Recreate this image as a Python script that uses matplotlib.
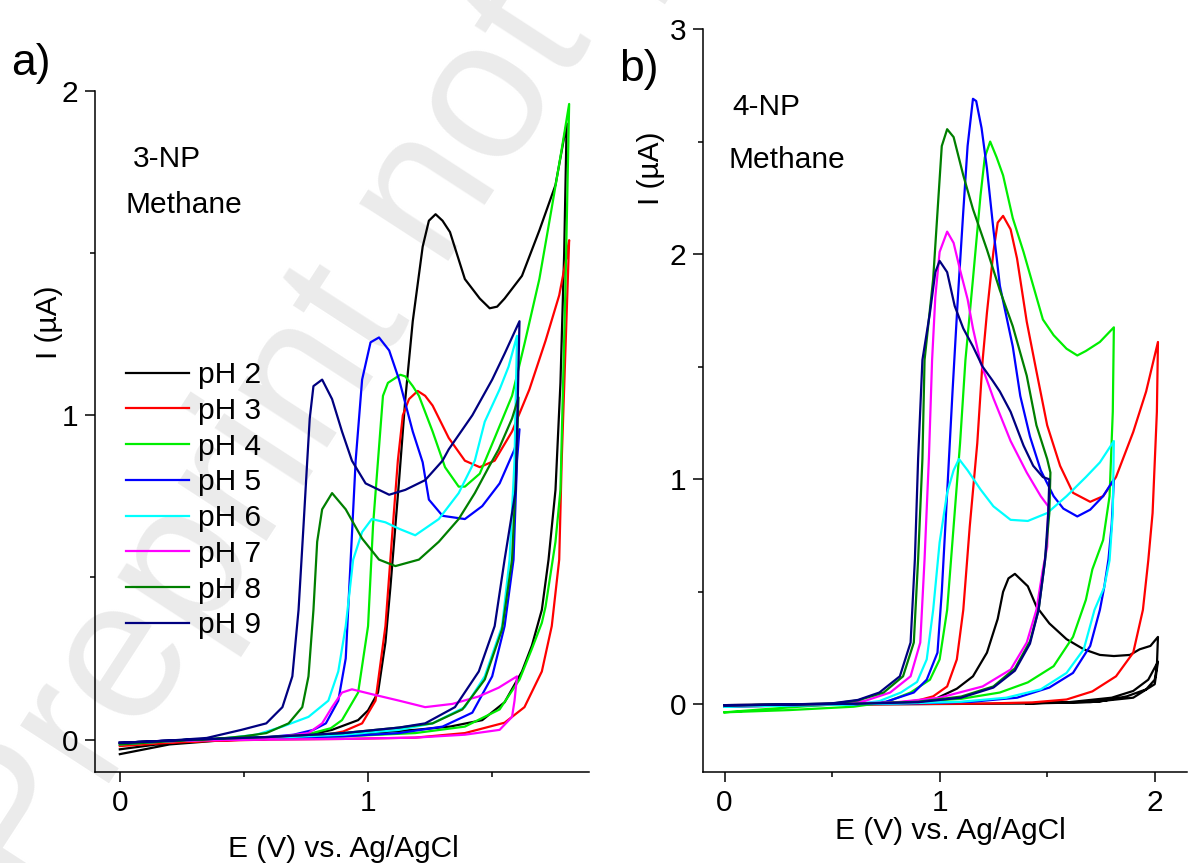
#!/usr/bin/env python3
"""Cyclic voltammograms of 3-NP and 4-NP in methane at different pH."""
import matplotlib.pyplot as plt
from matplotlib.ticker import MultipleLocator

plt.rcParams['font.family'] = ['Liberation Sans', 'DejaVu Sans']
plt.rcParams['font.size'] = 21.5

PH_LABELS = ['pH 2', 'pH 3', 'pH 4', 'pH 5', 'pH 6', 'pH 7', 'pH 8', 'pH 9']
COLORS = ['#000000', '#ff0000', '#00ee00', '#0000ff', '#00ffff', '#ff00ff', '#007f00', '#000080']

# ---- panel a: 3-NP, (E [V], I [uA]) along the scan (forward then reverse)
A_PH2 = [(0.0, -0.045), (0.1, -0.03), (0.2, -0.015), (0.4, -0.003), (0.6, 0.004), (0.75, 0.012),
         (0.855, 0.03), (0.96, 0.06), (1.0, 0.09), (1.04, 0.145), (1.07, 0.3), (1.09, 0.47),
         (1.125, 0.8), (1.15, 1.05), (1.18, 1.29), (1.22, 1.52), (1.245, 1.6), (1.272, 1.62),
         (1.30, 1.6), (1.33, 1.565), (1.39, 1.42), (1.45, 1.36), (1.49, 1.33), (1.52, 1.335),
         (1.55, 1.36), (1.62, 1.43), (1.69, 1.57), (1.755, 1.71), (1.80, 1.90), (1.79, 1.5),
         (1.775, 1.1), (1.755, 0.77), (1.727, 0.555), (1.70, 0.40), (1.66, 0.29), (1.62, 0.21),
         (1.55, 0.115), (1.46, 0.06), (1.33, 0.04), (1.19, 0.03), (1.0, 0.02), (0.7, 0.01),
         (0.4, 0.0), (0.2, -0.01), (0.0, -0.03)]
A_PH3 = [(0.0, -0.02), (0.2, -0.01), (0.4, -0.003), (0.6, 0.002), (0.8, 0.01), (0.9, 0.025),
         (0.976, 0.05), (1.03, 0.12), (1.07, 0.35), (1.10, 0.66), (1.12, 0.86), (1.14, 1.0),
         (1.165, 1.05), (1.20, 1.075), (1.23, 1.06), (1.26, 1.03), (1.325, 0.93), (1.39, 0.86),
         (1.45, 0.84), (1.51, 0.86), (1.58, 0.95), (1.65, 1.08), (1.715, 1.23), (1.77, 1.37),
         (1.80, 1.49), (1.81, 1.54), (1.795, 1.2), (1.78, 0.86), (1.77, 0.555), (1.74, 0.35),
         (1.70, 0.21), (1.63, 0.10), (1.55, 0.052), (1.39, 0.02), (1.19, 0.006), (0.9, 0.002),
         (0.6, 0.0), (0.3, -0.005), (0.0, -0.015)]
A_PH4 = [(0.0, -0.01), (0.2, -0.005), (0.4, 0.0), (0.6, 0.005), (0.75, 0.015), (0.85, 0.035),
         (0.895, 0.06), (0.96, 0.145), (1.0, 0.35), (1.02, 0.66), (1.04, 0.86), (1.06, 1.06),
         (1.08, 1.1), (1.10, 1.11), (1.13, 1.125), (1.15, 1.12), (1.18, 1.09), (1.205, 1.06),
         (1.26, 0.95), (1.31, 0.84), (1.365, 0.78), (1.39, 0.78), (1.45, 0.82), (1.51, 0.93),
         (1.58, 1.06), (1.63, 1.22), (1.69, 1.42), (1.74, 1.64), (1.78, 1.82), (1.81, 1.96),
         (1.795, 1.39), (1.775, 0.77), (1.755, 0.61), (1.715, 0.41), (1.70, 0.36), (1.66, 0.28),
         (1.61, 0.185), (1.53, 0.093), (1.39, 0.04), (1.19, 0.02), (0.9, 0.01), (0.6, 0.005),
         (0.3, 0.0), (0.0, -0.01)]
A_PH5 = [(0.0, -0.01), (0.2, -0.003), (0.4, 0.002), (0.6, 0.008), (0.7, 0.015), (0.78, 0.03),
         (0.83, 0.05), (0.88, 0.12), (0.91, 0.25), (0.93, 0.555), (0.95, 0.86), (0.976, 1.11),
         (1.01, 1.225), (1.044, 1.24), (1.085, 1.20), (1.125, 1.11), (1.18, 0.95), (1.22, 0.855),
         (1.245, 0.74), (1.30, 0.69), (1.39, 0.68), (1.46, 0.72), (1.53, 0.79), (1.57, 0.86),
         (1.59, 0.895), (1.61, 0.957), (1.60, 0.86), (1.586, 0.555), (1.55, 0.35), (1.50, 0.195),
         (1.42, 0.083), (1.30, 0.04), (1.125, 0.02), (0.9, 0.01), (0.6, 0.005), (0.3, 0.0),
         (0.0, -0.01)]
A_PH6 = [(0.0, -0.015), (0.2, -0.005), (0.4, 0.002), (0.55, 0.015), (0.655, 0.04), (0.76, 0.07),
         (0.84, 0.12), (0.88, 0.21), (0.91, 0.35), (0.94, 0.555), (0.976, 0.64), (1.015, 0.68),
         (1.07, 0.67), (1.125, 0.65), (1.19, 0.63), (1.285, 0.68), (1.365, 0.76), (1.43, 0.86),
         (1.47, 0.98), (1.53, 1.08), (1.566, 1.15), (1.60, 1.245), (1.59, 0.86), (1.57, 0.555),
         (1.54, 0.35), (1.47, 0.195), (1.39, 0.10), (1.26, 0.05), (1.125, 0.03), (0.9, 0.015),
         (0.6, 0.005), (0.3, 0.0), (0.0, -0.01)]
A_PH7 = [(0.0, -0.01), (0.2, -0.003), (0.4, 0.0), (0.6, 0.005), (0.76, 0.02), (0.815, 0.05),
         (0.855, 0.10), (0.895, 0.145), (0.935, 0.155), (1.015, 0.14), (1.125, 0.12), (1.23, 0.10),
         (1.34, 0.11), (1.446, 0.133), (1.526, 0.16), (1.60, 0.195), (1.59, 0.12), (1.58, 0.07),
         (1.53, 0.03), (1.39, 0.015), (1.19, 0.006), (0.9, 0.002), (0.6, 0.0), (0.3, -0.003),
         (0.0, -0.01)]
A_PH8 = [(0.0, -0.015), (0.2, -0.005), (0.4, 0.003), (0.5, 0.01), (0.59, 0.02), (0.68, 0.05),
         (0.735, 0.10), (0.76, 0.195), (0.78, 0.40), (0.795, 0.61), (0.815, 0.71), (0.855, 0.76),
         (0.91, 0.71), (0.976, 0.62), (1.044, 0.555), (1.11, 0.535), (1.205, 0.555), (1.285, 0.61),
         (1.365, 0.68), (1.43, 0.76), (1.486, 0.84), (1.526, 0.895), (1.58, 0.99), (1.606, 1.055),
         (1.595, 0.8), (1.58, 0.555), (1.54, 0.34), (1.47, 0.185), (1.38, 0.093), (1.26, 0.05),
         (1.125, 0.037), (0.9, 0.02), (0.6, 0.008), (0.3, 0.0), (0.0, -0.01)]
A_PH9 = [(0.0, -0.01), (0.2, -0.003), (0.35, 0.005), (0.49, 0.03), (0.59, 0.05), (0.655, 0.10),
         (0.695, 0.195), (0.72, 0.40), (0.74, 0.66), (0.755, 0.86), (0.765, 0.99), (0.78, 1.09),
         (0.815, 1.11), (0.855, 1.05), (0.895, 0.95), (0.935, 0.86), (0.99, 0.79), (1.085, 0.755),
         (1.15, 0.77), (1.23, 0.80), (1.30, 0.86), (1.325, 0.895), (1.42, 1.0), (1.50, 1.11),
         (1.55, 1.19), (1.61, 1.29), (1.595, 0.77), (1.55, 0.555), (1.51, 0.35), (1.446, 0.21),
         (1.35, 0.10), (1.23, 0.05), (1.125, 0.037), (0.9, 0.02), (0.6, 0.008), (0.3, 0.0),
         (0.0, -0.01)]

# ---- panel b: 4-NP
B_PH2 = [(0.0, -0.005), (0.3, 0.0), (0.6, 0.003), (0.8, 0.008), (0.97, 0.02), (1.08, 0.07),
         (1.155, 0.125), (1.22, 0.23), (1.27, 0.38), (1.295, 0.50), (1.32, 0.56), (1.35, 0.58),
         (1.41, 0.525), (1.45, 0.435), (1.51, 0.36), (1.59, 0.29), (1.67, 0.245), (1.745, 0.22),
         (1.81, 0.215), (1.885, 0.22), (1.93, 0.245), (1.98, 0.26), (2.015, 0.30), (2.01, 0.17),
         (2.0, 0.11), (1.96, 0.067), (1.87, 0.036), (1.745, 0.013), (1.59, 0.009), (1.4, 0.005),
         (1.6, 0.01), (1.8, 0.03), (1.9, 0.06), (1.97, 0.11), (2.015, 0.19), (2.0, 0.09),
         (1.9, 0.03), (1.7, 0.01), (1.4, 0.004), (1.0, 0.002), (0.6, 0.0), (0.0, -0.003)]
B_PH3 = [(0.0, -0.01), (0.3, -0.005), (0.6, 0.0), (0.8, 0.008), (0.9, 0.018), (0.97, 0.036),
         (1.035, 0.08), (1.08, 0.20), (1.11, 0.42), (1.14, 0.79), (1.175, 1.16), (1.20, 1.53),
         (1.22, 1.74), (1.25, 2.01), (1.27, 2.14), (1.295, 2.17), (1.33, 2.11), (1.36, 1.98),
         (1.405, 1.70), (1.45, 1.48), (1.50, 1.24), (1.56, 1.06), (1.62, 0.94), (1.70, 0.90),
         (1.76, 0.925), (1.82, 1.01), (1.90, 1.21), (1.96, 1.39), (2.015, 1.61), (2.01, 1.30),
         (1.99, 0.85), (1.97, 0.64), (1.945, 0.42), (1.90, 0.23), (1.82, 0.125), (1.71, 0.058),
         (1.59, 0.022), (1.43, 0.009), (1.2, 0.004), (0.9, 0.002), (0.5, 0.0), (0.0, -0.005)]
B_PH4 = [(0.0, -0.035), (0.3, -0.025), (0.6, -0.01), (0.75, 0.01), (0.865, 0.053), (0.955, 0.11),
         (1.0, 0.20), (1.035, 0.42), (1.065, 0.79), (1.095, 1.16), (1.12, 1.53), (1.155, 1.89),
         (1.19, 2.26), (1.21, 2.43), (1.235, 2.50), (1.265, 2.43), (1.295, 2.35), (1.34, 2.16),
         (1.39, 2.01), (1.435, 1.86), (1.48, 1.71), (1.53, 1.64), (1.59, 1.58), (1.64, 1.55),
         (1.68, 1.57), (1.745, 1.61), (1.81, 1.675), (1.805, 1.30), (1.79, 0.925), (1.76, 0.73),
         (1.71, 0.60), (1.68, 0.465), (1.62, 0.30), (1.53, 0.17), (1.41, 0.098), (1.28, 0.053),
         (1.1, 0.025), (0.8, 0.008), (0.5, 0.0), (0.2, -0.02), (0.0, -0.035)]
B_PH5 = [(0.0, -0.01), (0.3, -0.005), (0.6, 0.0), (0.75, 0.012), (0.88, 0.053), (0.94, 0.11),
         (0.99, 0.23), (1.01, 0.50), (1.035, 0.94), (1.06, 1.39), (1.085, 1.81), (1.11, 2.19),
         (1.13, 2.48), (1.155, 2.69), (1.17, 2.68), (1.195, 2.56), (1.22, 2.38), (1.25, 2.11),
         (1.28, 1.86), (1.34, 1.59), (1.375, 1.37), (1.42, 1.19), (1.47, 1.04), (1.53, 0.925),
         (1.575, 0.87), (1.64, 0.835), (1.70, 0.865), (1.76, 0.925), (1.81, 1.0), (1.80, 0.80),
         (1.785, 0.645), (1.765, 0.52), (1.745, 0.42), (1.70, 0.26), (1.62, 0.14), (1.51, 0.075),
         (1.36, 0.03), (1.15, 0.012), (0.9, 0.005), (0.5, 0.0), (0.0, -0.005)]
B_PH6 = [(0.0, -0.01), (0.3, -0.005), (0.6, 0.0), (0.72, 0.015), (0.82, 0.053), (0.895, 0.10),
         (0.94, 0.20), (0.97, 0.42), (1.0, 0.72), (1.035, 0.94), (1.065, 1.04), (1.09, 1.09),
         (1.13, 1.04), (1.19, 0.955), (1.25, 0.88), (1.33, 0.82), (1.41, 0.815), (1.50, 0.85),
         (1.59, 0.925), (1.68, 1.01), (1.745, 1.075), (1.81, 1.17), (1.805, 0.85), (1.79, 0.64),
         (1.765, 0.52), (1.72, 0.42), (1.67, 0.245), (1.59, 0.14), (1.47, 0.067), (1.31, 0.03),
         (1.1, 0.012), (0.8, 0.004), (0.4, 0.0), (0.0, -0.008)]
B_PH7 = [(0.0, -0.005), (0.3, 0.0), (0.5, 0.003), (0.65, 0.015), (0.77, 0.053), (0.865, 0.125),
         (0.91, 0.275), (0.93, 0.645), (0.95, 1.09), (0.965, 1.53), (0.98, 1.81), (1.0, 2.01),
         (1.035, 2.10), (1.065, 2.05), (1.095, 1.93), (1.13, 1.80), (1.155, 1.67), (1.19, 1.52),
         (1.25, 1.36), (1.33, 1.17), (1.405, 1.03), (1.47, 0.925), (1.505, 0.88), (1.50, 0.70),
         (1.48, 0.60), (1.45, 0.42), (1.405, 0.275), (1.33, 0.155), (1.2, 0.08), (1.0, 0.03),
         (0.8, 0.01), (0.5, 0.002), (0.0, -0.003)]
B_PH8 = [(0.0, -0.005), (0.3, 0.0), (0.5, 0.004), (0.62, 0.018), (0.74, 0.053), (0.83, 0.125),
         (0.88, 0.275), (0.90, 0.645), (0.92, 1.09), (0.93, 1.53), (0.97, 1.89), (0.995, 2.26),
         (1.01, 2.48), (1.035, 2.555), (1.065, 2.52), (1.11, 2.35), (1.155, 2.20), (1.22, 2.02),
         (1.28, 1.84), (1.34, 1.68), (1.405, 1.46), (1.45, 1.24), (1.50, 1.09), (1.515, 1.03),
         (1.51, 0.85), (1.49, 0.64), (1.46, 0.42), (1.42, 0.28), (1.35, 0.16), (1.25, 0.08),
         (1.1, 0.035), (0.9, 0.012), (0.6, 0.003), (0.3, 0.0), (0.0, -0.003)]
B_PH9 = [(0.0, -0.005), (0.3, 0.0), (0.5, 0.005), (0.62, 0.02), (0.72, 0.053), (0.815, 0.125),
         (0.865, 0.275), (0.885, 0.645), (0.90, 1.09), (0.92, 1.53), (0.955, 1.74), (0.98, 1.92),
         (1.0, 1.97), (1.035, 1.92), (1.07, 1.77), (1.11, 1.67), (1.155, 1.59), (1.20, 1.50),
         (1.245, 1.44), (1.28, 1.39), (1.33, 1.30), (1.39, 1.15), (1.435, 1.06), (1.48, 1.01),
         (1.51, 1.0), (1.505, 0.85), (1.49, 0.64), (1.46, 0.42), (1.42, 0.27), (1.35, 0.15),
         (1.25, 0.075), (1.1, 0.03), (0.9, 0.01), (0.6, 0.003), (0.3, 0.0), (0.0, -0.003)]

CURVES_A = [A_PH2, A_PH3, A_PH4, A_PH5, A_PH6, A_PH7, A_PH8, A_PH9]
CURVES_B = [B_PH2, B_PH3, B_PH4, B_PH5, B_PH6, B_PH7, B_PH8, B_PH9]

W, H = 1189, 863
FS = 21.5

# axes boxes in pixels: left, bottom spine y, right, top
A_BOX = (95, 772, 589, 91)
B_BOX = (703, 772, 1187, 29)


def add_axes(box):
    l, b, r, t = box
    return fig.add_axes([l / W, 1 - b / H, (r - l) / W, (b - t) / H])


def style_axes(ax):
    ax.set_facecolor('none')
    ax.spines['top'].set_visible(False)
    ax.spines['right'].set_visible(False)
    for s in ('left', 'bottom'):
        ax.spines[s].set_linewidth(1.1)
    ax.tick_params(which='major', direction='out', length=7, width=1.1, labelsize=FS)
    ax.tick_params(which='minor', direction='out', length=3.5, width=1.1)
    ax.tick_params(axis='x', which='major', pad=5)
    ax.tick_params(axis='y', which='major', pad=5)
    ax.xaxis.set_major_locator(MultipleLocator(1))
    ax.xaxis.set_minor_locator(MultipleLocator(0.5))
    ax.yaxis.set_major_locator(MultipleLocator(1))
    ax.yaxis.set_minor_locator(MultipleLocator(0.5))


def draw(ax, curves):
    for pts, color, label in zip(curves, COLORS, PH_LABELS):
        e = [p[0] for p in pts]
        i = [p[1] for p in pts]
        ax.plot(e, i, color=color, lw=1.6, label=label, solid_joinstyle='round')


def frac(box, x, y):
    """pixel position -> axes fraction for an axes box"""
    l, b, r, t = box
    return (x - l) / (r - l), (b - y) / (b - t)


fig = plt.figure(figsize=(W / 100, H / 100), dpi=100)

# watermark, behind everything
fig.text(30 / W, 1 - 906 / H, 'Preprint not peer reviewed', rotation=57,
         rotation_mode='anchor', ha='left', va='baseline', fontsize=144,
         color='#ebebeb', zorder=-10)

ax1 = add_axes(A_BOX)
ax2 = add_axes(B_BOX)

# panel a
draw(ax1, CURVES_A)
style_axes(ax1)
ax1.set_xlim(-0.1, 1.89)
ax1.set_ylim(-0.1, 2.0)
ax1.set_xlabel('E (V) vs. Ag/AgCl', fontsize=FS)
ax1.xaxis.set_label_coords(*frac(A_BOX, 343, 835))
ax1.set_ylabel('I (\u00b5A)', fontsize=FS)
ax1.yaxis.set_label_coords(*frac(A_BOX, 63, 322))
ax1.legend(loc='upper left', bbox_to_anchor=frac(A_BOX, 126, 361),
           frameon=False, fontsize=FS, handlelength=2.1, handletextpad=0.3,
           labelspacing=0.26, borderpad=0, borderaxespad=0)

# panel b
draw(ax2, CURVES_B)
style_axes(ax2)
ax2.set_xlim(-0.1, 2.15)
ax2.set_ylim(-0.3, 3.0)
ax2.set_xlabel('E (V) vs. Ag/AgCl', fontsize=FS)
ax2.xaxis.set_label_coords(*frac(B_BOX, 950, 817))
ax2.set_ylabel('I (\u00b5A)', fontsize=FS)
ax2.yaxis.set_label_coords(*frac(B_BOX, 665, 168))

# panel letters and annotations
fig.text(11 / W, 1 - 64 / H, 'a)', fontsize=32, va='center', ha='left')
fig.text(619 / W, 1 - 70 / H, 'b)', fontsize=32, va='center', ha='left')
fig.text(133 / W, 1 - 167 / H, '3-NP', fontsize=FS, va='baseline', ha='left')
fig.text(126 / W, 1 - 213 / H, 'Methane', fontsize=FS, va='baseline', ha='left')
fig.text(732 / W, 1 - 115 / H, '4-NP', fontsize=FS, va='baseline', ha='left')
fig.text(728 / W, 1 - 168 / H, 'Methane', fontsize=FS, va='baseline', ha='left')

plt.savefig('out.png', dpi=100)
plt.close()
